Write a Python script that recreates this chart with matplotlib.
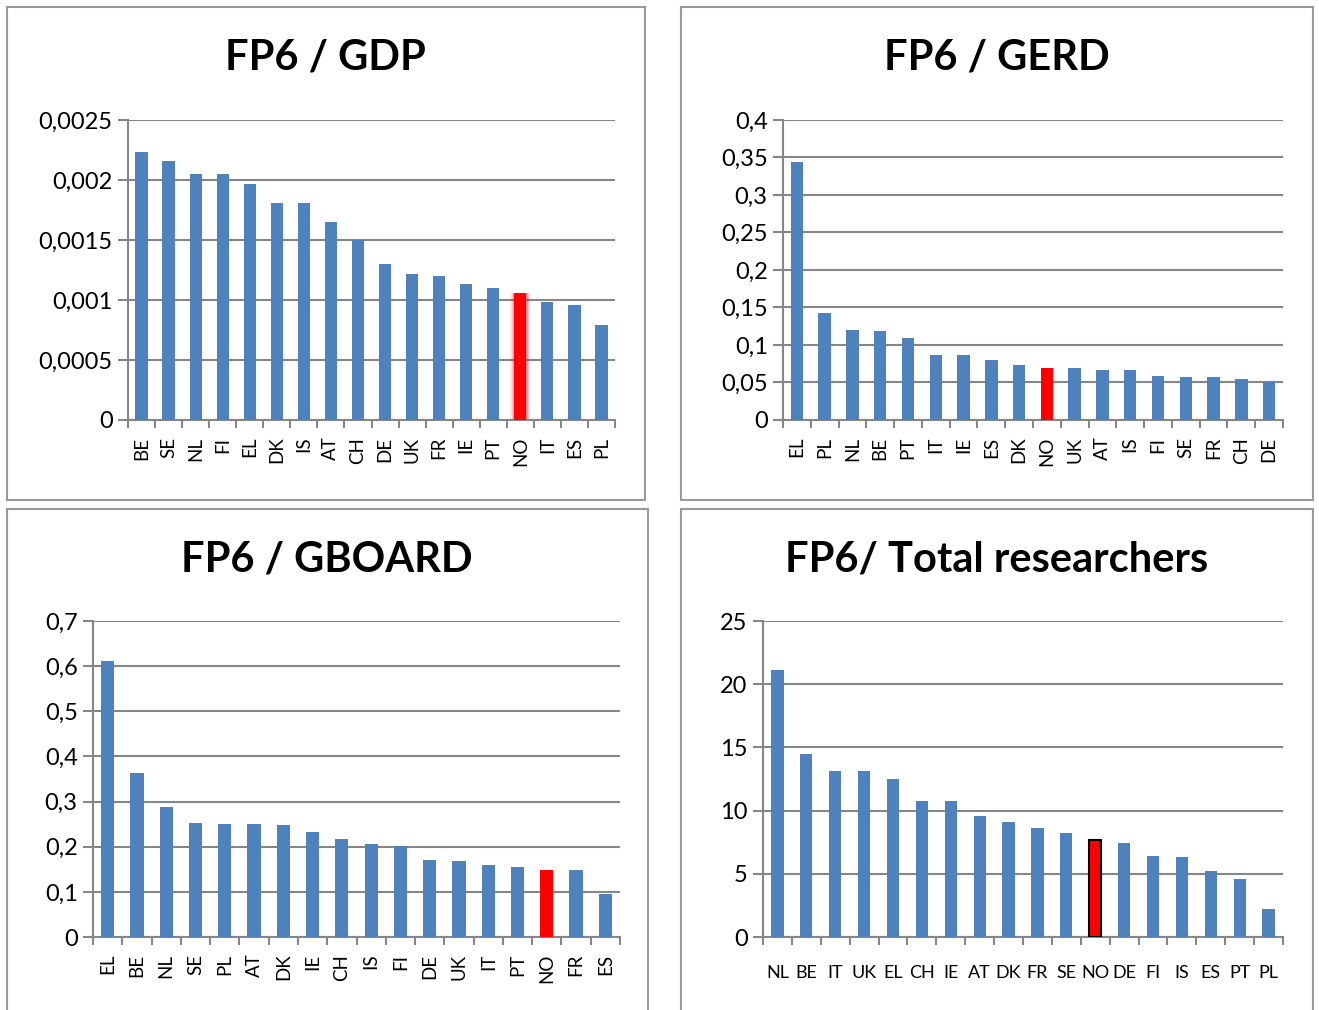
import numpy as np
import matplotlib
matplotlib.use("Agg")
import matplotlib.pyplot as plt
from matplotlib.patches import Rectangle
from matplotlib.ticker import FuncFormatter, FixedLocator

plt.rcParams['font.family'] = ['Lato', 'DejaVu Sans']

# data
gdp_c = ["BE", "SE", "NL", "FI", "EL", "DK", "IS", "AT", "CH", "DE", "UK", "FR", "IE", "PT", "NO", "IT", "ES", "PL"]
gdp_v = [0.00223, 0.00216, 0.00205, 0.00205, 0.00197, 0.00181, 0.00181, 0.00165, 0.00150, 0.00130,
         0.00122, 0.00120, 0.00113, 0.00110, 0.00106, 0.00098, 0.00096, 0.00079]

gerd_c = ["EL", "PL", "NL", "BE", "PT", "IT", "IE", "ES", "DK", "NO", "UK", "AT", "IS", "FI", "SE", "FR", "CH", "DE"]
gerd_v = [0.344, 0.142, 0.120, 0.119, 0.109, 0.086, 0.086, 0.080, 0.073, 0.069,
          0.069, 0.067, 0.066, 0.059, 0.057, 0.057, 0.054, 0.051]

gboard_c = ["EL", "BE", "NL", "SE", "PL", "AT", "DK", "IE", "CH", "IS", "FI", "DE", "UK", "IT", "PT", "NO", "FR", "ES"]
gboard_v = [0.612, 0.364, 0.287, 0.253, 0.251, 0.250, 0.249, 0.233, 0.218, 0.206,
            0.202, 0.171, 0.168, 0.160, 0.154, 0.149, 0.149, 0.096]

res_c = ["NL", "BE", "IT", "UK", "EL", "CH", "IE", "AT", "DK", "FR", "SE", "NO", "DE", "FI", "IS", "ES", "PT", "PL"]
res_v = [21.1, 14.5, 13.16, 13.1, 12.53, 10.72, 10.72, 9.58, 9.1, 8.63,
         8.2, 7.7, 7.4, 6.4, 6.3, 5.2, 4.62, 2.2]

titles = ["FP6 / GDP", "FP6 / GERD", "FP6 / GBOARD", "FP6/ Total researchers"]

W, H = 1319, 1010
fig = plt.figure(figsize=(W / 100, H / 100), dpi=100)
BLUE = "#4F81BD"
GREY = "#868686"


def px_axes(l, r, t, b):
    return fig.add_axes([l / W, 1 - b / H, (r - l) / W, (b - t) / H])


def panel(x0, y0, x1, y1):
    fig.patches.append(Rectangle((x0 / W, 1 - y1 / H), (x1 - x0) / W, (y1 - y0) / H,
                                 transform=fig.transFigure, fill=False,
                                 edgecolor="#9a9a9a", lw=1.5))


def fmt(v, pos):
    return f"{v:g}".replace(".", ",")


def bar_chart(ax, cats, vals, ymax, step, rot, width, pad, xsize):
    x = np.arange(len(cats))
    colors = ["red" if c == "NO" else BLUE for c in cats]
    bars = ax.bar(x, vals, width=width, color=colors, zorder=3)
    ax.set_xlim(-0.5, len(cats) - 0.5)
    ax.set_ylim(0, ymax)
    ticks = np.arange(0, ymax + step / 2, step)
    ax.set_yticks(ticks)
    ax.yaxis.set_major_formatter(FuncFormatter(fmt))
    ax.grid(axis="y", color=GREY, lw=1.5, zorder=0)
    ax.set_axisbelow(True)
    for s in ["top", "right"]:
        ax.spines[s].set_visible(False)
    for s in ["left", "bottom"]:
        ax.spines[s].set_color(GREY)
        ax.spines[s].set_linewidth(1.5)
    ax.set_xticks(x)
    ax.set_xticklabels(cats, rotation=rot)
    ax.xaxis.set_minor_locator(FixedLocator(np.arange(-0.5, len(cats), 1)))
    ax.tick_params(axis="x", which="major", length=0, pad=pad, labelsize=xsize)
    ax.tick_params(axis="x", which="minor", length=6, width=1.5, color=GREY, direction="out")
    ax.tick_params(axis="y", length=7, width=1.5, color=GREY, labelsize=17, pad=4)
    return bars, x


panel(7, 7, 645, 500)
panel(681, 7, 1313, 500)
panel(7, 509, 648, 1012)
panel(681, 509, 1313, 1012)

ax1 = px_axes(128, 615, 120, 420)
bars, x = bar_chart(ax1, gdp_c, gdp_v, 0.0025, 0.0005, 90, 0.45, 12, 13.5)
# soft glow around the red bar
i = gdp_c.index("NO")
for w, a in [(0.75, 0.10), (0.65, 0.15), (0.55, 0.25)]:
    ax1.bar(x[i], gdp_v[i] + 0.00003 * (w - 0.45) * 10, width=w, bottom=-0.00003 * (w - 0.45) * 10,
            color="red", alpha=a, zorder=2, lw=0)

ax2 = px_axes(783, 1283, 120, 420)
bar_chart(ax2, gerd_c, gerd_v, 0.4, 0.05, 90, 0.45, 12, 13.5)

ax3 = px_axes(93, 620, 621, 937)
bar_chart(ax3, gboard_c, gboard_v, 0.7, 0.1, 90, 0.45, 12, 13.5)

ax4 = px_axes(763, 1283, 621, 937)
bars4, x4 = bar_chart(ax4, res_c, res_v, 25, 5, 0, 0.42, 20, 13)
bars4[res_c.index("NO")].set_edgecolor("black")
bars4[res_c.index("NO")].set_linewidth(1.5)

for (cx, cy), t in zip([(325, 58), (997, 58), (327, 560), (997, 560)], titles):
    fig.text(cx / W, 1 - cy / H, t, ha="center", va="center", fontsize=30, fontweight="bold")

fig.savefig("out.png", dpi=100)
